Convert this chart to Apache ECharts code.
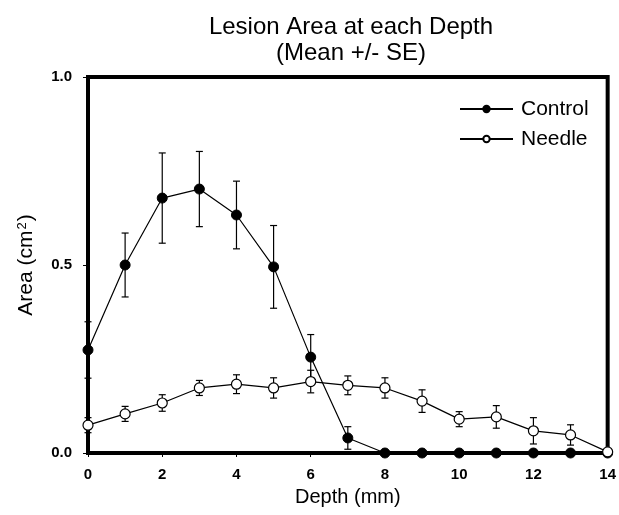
<!DOCTYPE html>
<html>
<head>
<meta charset="utf-8">
<script src="https://cdn.jsdelivr.net/npm/echarts@6/dist/echarts.min.js"></script>
<style>html,body{margin:0;padding:0;background:#fff;}#c{width:619px;height:515px;}</style>
</head>
<body>
<div id="c"></div>
<script>
const depths = [0,1,2,3,4,5,6,7,8,9,10,11,12,13,14];
const controlMean = [0.274,0.50,0.678,0.702,0.633,0.495,0.255,0.04,0,0,0,0,0,0,0];
const controlSE   = [0.075,0.085,0.12,0.10,0.09,0.11,0.06,0.03,0,0,0,0,0,0,0];
const needleMean  = [0.074,0.104,0.133,0.173,0.183,0.173,0.19,0.18,0.173,0.138,0.09,0.096,0.059,0.048,0.003];
const needleSE    = [0.02,0.02,0.022,0.02,0.025,0.027,0.03,0.025,0.027,0.03,0.02,0.03,0.035,0.027,0];
const xTicks = [0,2,4,6,8,10,12,14];
const yTicks = [0,0.5,1.0];

const font = 'Liberation Sans, Arial, sans-serif';
function pts(m){ return depths.map((d,i)=>[d,m[i]]); }
function errData(m,s){ return depths.map((d,i)=>[d,m[i]-s[i],m[i]+s[i]]).filter((r,i)=>s[i]>0); }
function errSeries(m,s){
  return {
    type:'custom', silent:true, z:1,
    data: errData(m,s),
    renderItem:function(params,api){
      const x=api.value(0), lo=api.value(1), hi=api.value(2);
      const p1=api.coord([x,hi]), p2=api.coord([x,lo]);
      const w=3.5;
      const st={stroke:'#000',lineWidth:1.2};
      return {type:'group',children:[
        {type:'line',shape:{x1:p1[0],y1:p1[1],x2:p2[0],y2:p2[1]},style:st},
        {type:'line',shape:{x1:p1[0]-w,y1:p1[1],x2:p1[0]+w,y2:p1[1]},style:st},
        {type:'line',shape:{x1:p2[0]-w,y1:p2[1],x2:p2[0]+w,y2:p2[1]},style:st}
      ]};
    }
  };
}
const chart = echarts.init(document.getElementById('c'),null,{renderer:'canvas'});
chart.setOption({
  animation:false,
  backgroundColor:'#fff',
  title:{
    text:'Lesion Area at each Depth\n(Mean +/- SE)',
    left:346, top:9, textAlign:'center',
    textStyle:{fontFamily:font,fontSize:24,fontWeight:'normal',color:'#000',lineHeight:26}
  },
  legend:{
    orient:'vertical', left:454, top:93, itemGap:8, itemWidth:53, itemHeight:8,
    data:['Control','Needle'],
    textStyle:{fontFamily:font,fontSize:21,color:'#000',lineHeight:22,padding:[0,0,0,3]}
  },
  grid:{left:88,right:7,top:77,bottom:62,show:true,borderColor:'#000',borderWidth:4,backgroundColor:'transparent'},
  xAxis:{
    type:'value', min:0, max:14, interval:2,
    name:'Depth (mm)', nameLocation:'middle', nameGap:34,
    nameTextStyle:{fontFamily:font,fontSize:20,color:'#000'},
    axisLine:{show:false}, splitLine:{show:false},
    axisTick:{show:true,length:4,lineStyle:{color:'#000'}},
    axisLabel:{fontFamily:font,fontSize:15,fontWeight:'bold',color:'#000',margin:14,
      formatter:v=>xTicks.includes(v)?String(v):''}
  },
  yAxis:{
    type:'value', min:0, max:1, interval:0.5,
    name:'{a|Area (cm}{s|2}{a|)}', nameLocation:'middle', nameGap:51, nameRotate:90,
    nameTextStyle:{fontFamily:font,fontSize:21,color:'#000',
      rich:{a:{fontFamily:font,fontSize:21,color:'#000'},
            s:{fontFamily:font,fontSize:13,color:'#000',verticalAlign:'top',padding:[0,1,8,1]}}},
    axisLine:{show:false}, splitLine:{show:false},
    axisTick:{show:true,length:5,lineStyle:{color:'#000'}},
    axisLabel:{fontFamily:font,fontSize:15,fontWeight:'bold',color:'#000',margin:16,
      formatter:v=>yTicks.includes(v)?v.toFixed(1):''}
  },
  series:[
    errSeries(controlMean,controlSE),
    errSeries(needleMean,needleSE),
    {name:'Control',type:'line',data:pts(controlMean),symbol:'circle',symbolSize:10,z:3,
     lineStyle:{color:'#000',width:1.2},itemStyle:{color:'#000',borderColor:'#000',borderWidth:1}},
    {name:'Needle',type:'line',data:pts(needleMean),symbol:'circle',symbolSize:10,z:4,
     lineStyle:{color:'#000',width:1.2},itemStyle:{color:'#fff',borderColor:'#000',borderWidth:1.2}}
  ]
});
</script>
</body>
</html>
